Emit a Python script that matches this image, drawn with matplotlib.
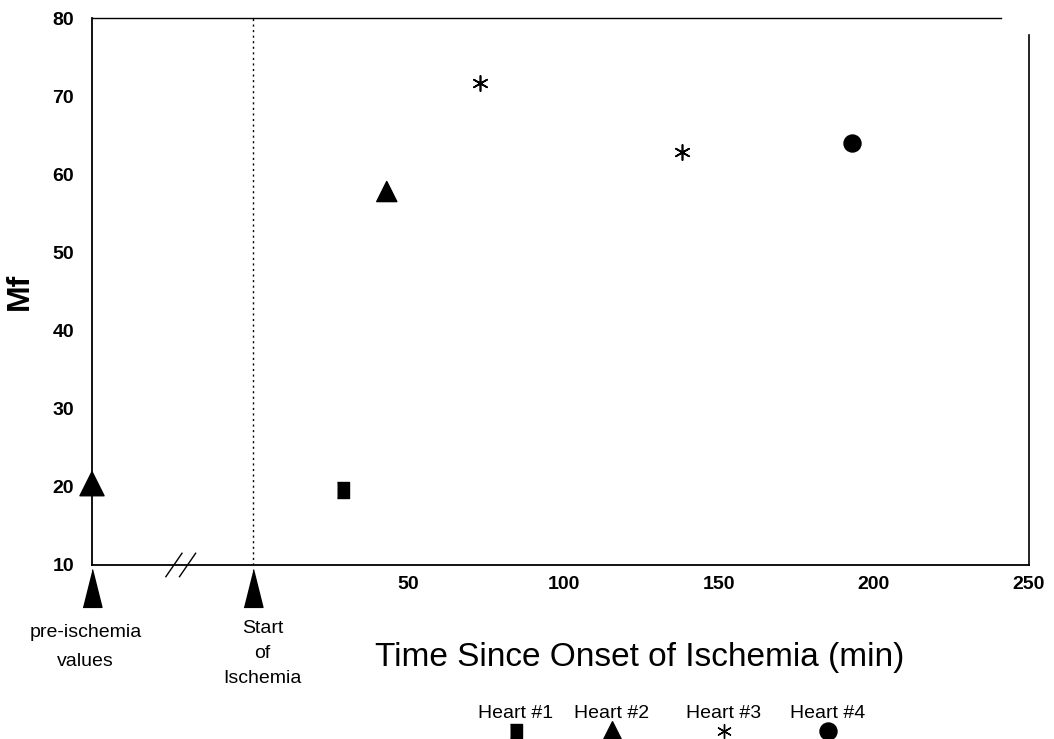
import matplotlib
matplotlib.use("Agg")
from matplotlib import pyplot as plt

plt.rcParams['font.family'] = ['Liberation Sans', 'DejaVu Sans']

# odczytane wartosci
heart1_x = [29]
heart1_y = [19.6]
heart2_x = [-52, 43]
heart2_y = [20.4, 57.8]
heart3_x = [73, 138]
heart3_y = [71.7, 62.9]
heart4_x = [193]
heart4_y = [64.0]

x_ticks = [50, 100, 150, 200, 250]
y_ticks = [10, 20, 30, 40, 50, 60, 70, 80]
legend_labels = ['Heart #1', 'Heart #2', 'Heart #3', 'Heart #4']

star = (6, 2, 0)
rect = [(-0.8, -1), (0.8, -1), (0.8, 1), (-0.8, 1)]
tall_tri = [(-0.5, -1), (0.5, -1), (0, 1)]

fig = plt.figure(figsize=(10.54, 7.39), dpi=100)
ax = fig.add_axes([0.0873, 0.2355, 0.8890, 0.7400])
ax.set_xlim(-52, 248)
ax.set_ylim(10, 80)

ax.scatter(heart1_x, heart1_y, marker=rect, s=120, color='black', clip_on=False, zorder=3)
ax.scatter(heart2_x, heart2_y, marker='^', s=[300, 210], color='black', clip_on=False, zorder=3)
ax.scatter(heart3_x, heart3_y, marker=star, s=120, color='black', linewidths=1.2, clip_on=False, zorder=3)
ax.scatter(heart4_x, heart4_y, marker='o', s=150, color='black', clip_on=False, zorder=3)

'''ramka'''
for side in ['top', 'right']:
    ax.spines[side].set_visible(False)
ax.spines['left'].set_linewidth(1.3)
ax.spines['bottom'].set_linewidth(1.3)
ax.plot([0, 0.97], [1, 1], transform=ax.transAxes, color='black', lw=1.0, clip_on=False)
ax.plot([1, 1], [0, 0.97], transform=ax.transAxes, color='black', lw=1.2, clip_on=False)
ax.axvline(0, color='black', lw=1.0, linestyle=(0, (1.5, 2.5)))

ax.set_xticks(x_ticks)
ax.set_yticks(y_ticks)
ax.tick_params(length=0, labelsize=14, pad=8)
ax.tick_params(axis='y', pad=13)
for lab in ax.get_yticklabels() + ax.get_xticklabels():
    lab.set_fontweight('bold')

ax.set_ylabel('Mf', fontsize=23, fontweight='bold', va='center')
ax.yaxis.set_label_coords(-0.077, 0.5)
ax.set_xlabel('Time Since Onset of Ischemia (min)', fontsize=24, x=0.585, labelpad=35)

'''znacznik przerwy osi'''
for dx in [-25.6, -21.2]:
    ax.plot([dx - 2.6, dx + 2.6], [8.5, 11.5], color='black', lw=1.0, clip_on=False)

'''strzalki pod osia'''
ax.scatter([-52, 0], [7.05, 7.05], marker=tall_tri, s=740, color='black', clip_on=False)
ax.text(-54, 2.5, 'pre-ischemia\nvalues', ha='center', va='top', fontsize=14, linespacing=1.95)
ax.text(3, 2.9, 'Start\nof\nIschemia', ha='center', va='top', fontsize=14, linespacing=1.6)

'''legenda'''
leg_x = [516, 612, 724, 828]
leg_markers = [rect, '^', star, 'o']
leg_sizes = [110, 200, 100, 150]
for lx, lab, mk, sz in zip(leg_x, legend_labels, leg_markers, leg_sizes):
    fig.text(lx / 1054, 1 - 713 / 739, lab, ha='center', va='center', fontsize=14)
    ax.scatter([lx], [739 - 731], transform=None, marker=mk, s=sz,
               color='black', clip_on=False, linewidths=1.0)

fig.savefig('out.png', dpi=100)
